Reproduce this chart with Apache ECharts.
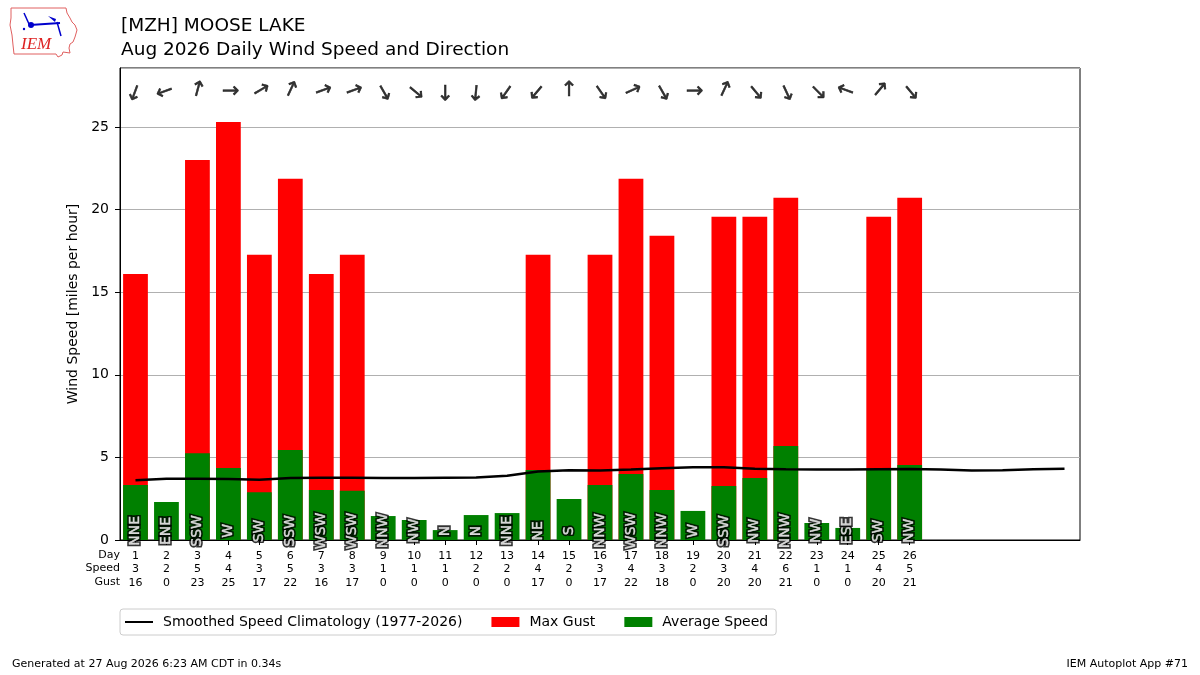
<!DOCTYPE html>
<html>
<head>
<meta charset="utf-8">
<script src="https://cdn.jsdelivr.net/npm/echarts@6/dist/echarts.min.js"></script>
<style>html,body{margin:0;padding:0;background:#fff;}#c{width:1200px;height:675px;}</style>
</head>
<body>
<div id="c"></div>
<script>
// ---- data ----
const days = ['1','2','3','4','5','6','7','8','9','10','11','12','13','14','15','16','17','18','19','20','21','22','23','24','25','26','27','28','29','30','31'];
const avgSpeed = [3.33,2.30,5.25,4.36,2.89,5.45,3.03,2.98,1.45,1.21,0.60,1.51,1.63,4.24,2.48,3.33,4.00,3.03,1.76,3.27,3.75,5.69,1.03,0.73,4.25,4.54];
const maxGust = [16.1,0,23.0,25.3,17.26,21.86,16.1,17.26,0,0,0,0,0,17.26,0,17.26,21.86,18.41,0,19.56,19.56,20.71,0,0,19.56,20.71];
const climo = [3.61,3.71,3.71,3.69,3.65,3.75,3.77,3.77,3.75,3.75,3.77,3.79,3.89,4.14,4.22,4.20,4.26,4.34,4.40,4.40,4.32,4.28,4.26,4.26,4.28,4.30,4.26,4.20,4.22,4.28,4.32];
const dirText = ['NNE','ENE','SSW','W','SW','SSW','WSW','WSW','NNW','NW','N','N','NNE','NE','S','NNW','WSW','NNW','W','SSW','NW','NNW','NW','ESE','SW','NW'];
const dirDeg = [20,70,195,270,240,205,250,250,330,310,0,5,35,40,180,325,245,330,270,205,320,335,315,110,220,320];
const speedLbl = ['3','2','5','4','3','5','3','3','1','1','1','2','2','4','2','3','4','3','2','3','4','6','1','1','4','5'];
const gustLbl = ['16','0','23','25','17','22','16','17','0','0','0','0','0','17','0','17','22','18','0','20','20','21','0','0','20','21'];
const yTicks = [0,5,10,15,20,25];

const FONT = 'DejaVu Sans';
const chart = echarts.init(document.getElementById('c'), null, {renderer:'canvas'});

const labelY = 0.55;
const arrowY = 27.2;
const lineIcon = 'path://M0,0h0.01v0.01h-0.01z M0,3.9h28v2.2h-28z M0,9.99h0.01v0.01h-0.01z';

const dirLabelBase = {show: true, position: 'inside', formatter: p => p.name, rotate: 90,
  fontFamily: FONT, fontSize: 14, align: 'center', verticalAlign: 'middle'};

const option = {
  backgroundColor: '#fff',
  animation: false,
  textStyle: {fontFamily: FONT},
  title: [
    {text: '[MZH] MOOSE LAKE', left: 116, top: 12, textStyle: {fontFamily: FONT, fontSize: 18.5, fontWeight: 'normal', color: '#000'}},
    {text: 'Aug 2026 Daily Wind Speed and Direction', left: 116, top: 36, textStyle: {fontFamily: FONT, fontSize: 18.5, fontWeight: 'normal', color: '#000'}}
  ],
  grid: {left: 120, right: 120, top: 68, bottom: 135, show: true, borderColor: '#000', borderWidth: 1, backgroundColor: 'transparent'},
  legend: {
    data: [
      {name: 'Smoothed Speed Climatology (1977-2026)', icon: lineIcon},
      {name: 'Max Gust', icon: 'rect'},
      {name: 'Average Speed', icon: 'rect'}
    ],
    left: 120, top: 609, orient: 'horizontal',
    itemWidth: 28, itemHeight: 10, itemGap: 29,
    padding: [6, 8, 6, 5],
    borderColor: '#cccccc', borderWidth: 1, borderRadius: 3,
    textStyle: {fontFamily: FONT, fontSize: 14, color: '#000', padding: [0, 0, 0, 5]}
  },
  xAxis: {
    type: 'category', data: days, boundaryGap: true,
    axisLine: {lineStyle: {color: '#000'}},
    axisTick: {show: true, alignWithLabel: true, length: 5, interval: (i) => i < speedLbl.length, lineStyle: {color: '#000'}},
    axisLabel: {
      interval: 0, margin: 9, color: '#000', fontSize: 11, lineHeight: 13.5, fontFamily: FONT,
      formatter: (v, i) => i < speedLbl.length ? (v + '\n' + speedLbl[i] + '\n' + gustLbl[i]) : ''
    },
    splitLine: {show: false}
  },
  yAxis: {
    type: 'value', min: 0, max: 28.57, interval: 5,
    name: 'Wind Speed [miles per hour]', nameLocation: 'middle', nameGap: 33,
    nameTextStyle: {fontFamily: FONT, fontSize: 14, color: '#000'},
    axisLine: {show: true, lineStyle: {color: '#000'}},
    axisTick: {show: true, length: 5, lineStyle: {color: '#000'}},
    axisLabel: {color: '#000', fontSize: 14, fontFamily: FONT, showMaxLabel: false, margin: 11,
      formatter: v => yTicks.indexOf(v) >= 0 ? String(v) : ''},
    splitLine: {show: true, lineStyle: {color: '#b0b0b0', width: 1}}
  },
  series: [
    {name: 'Max Gust', type: 'bar', data: maxGust, barCategoryGap: '20%', barGap: '-100%', itemStyle: {color: '#ff0000'}, z: 2},
    {name: 'Average Speed', type: 'bar', data: avgSpeed, barCategoryGap: '20%', barGap: '-100%', itemStyle: {color: '#008000'}, z: 2},
    {name: 'Smoothed Speed Climatology (1977-2026)', type: 'line', data: climo, symbol: 'none', showSymbol: false,
      lineStyle: {color: '#000', width: 2.5}, itemStyle: {color: '#000'}, z: 3},
    {name: 'dirlabelsOutline', type: 'scatter', symbolSize: 0, z: 5, silent: true,
      data: dirText.map((t, i) => ({value: [i, labelY], name: t})),
      label: Object.assign({}, dirLabelBase, {color: '#000', textBorderColor: '#000', textBorderWidth: 3.6})},
    {name: 'dirlabels', type: 'scatter', symbolSize: 0, z: 6, silent: true,
      data: dirText.map((t, i) => ({value: [i, labelY], name: t})),
      label: Object.assign({}, dirLabelBase, {color: '#fff', textBorderColor: '#fff', textBorderWidth: 0.4})},
    {name: 'arrows', type: 'scatter', symbolSize: 0, z: 5, silent: true,
      data: dirDeg.map((d, i) => ({value: [i, arrowY],
        label: {rotate: -((d + 180) % 360)}})),
      label: {show: true, position: 'inside', formatter: '↑',
        color: '#000', textBorderColor: '#000', textBorderWidth: 0.5,
        fontFamily: FONT, fontSize: 21, align: 'center', verticalAlign: 'middle'}}
  ],
  graphic: [
    {type: 'text', x: 120, y: 548, style: {text: 'Day\nSpeed\nGust', fontFamily: FONT, fontSize: 11, lineHeight: 13.5, fill: '#000', align: 'right'}},
    {type: 'text', left: 12, top: 659, style: {text: 'Generated at 27 Aug 2026 6:23 AM CDT in 0.34s', fontFamily: FONT, fontSize: 11, fill: '#000'}},
    {type: 'text', right: 12, top: 659, style: {text: 'IEM Autoplot App #71', fontFamily: FONT, fontSize: 11, fill: '#000'}},
    // logo
    {type: 'polyline', shape: {points: [[11,8],[66,8],[67,13],[70,18],[72,22],[75,25],[77,30],[75,37],[73,42],[70,44],[69,48],[70,53],[63,52],[62,55],[58,57],[56,54],[14,54],[13,45],[12,35],[10,25],[11,18],[11,8]]},
      style: {stroke: '#e06060', lineWidth: 1, fill: 'none'}},
    {type: 'text', left: 21, top: 36, style: {text: 'IEM', fontFamily: 'Liberation Serif', fontStyle: 'italic', fontSize: 17, fill: '#dd2222'}},
    {type: 'line', shape: {x1: 30, y1: 25, x2: 60, y2: 23}, style: {stroke: '#0000cc', lineWidth: 2}},
    {type: 'circle', shape: {cx: 31, cy: 25, r: 3}, style: {fill: '#0000cc'}},
    {type: 'line', shape: {x1: 24, y1: 13, x2: 29, y2: 24}, style: {stroke: '#0000cc', lineWidth: 1.5}},
    {type: 'line', shape: {x1: 57, y1: 22, x2: 61, y2: 36}, style: {stroke: '#0000cc', lineWidth: 1.5}},
    {type: 'polygon', shape: {points: [[48,16],[56,19],[55,22]]}, style: {fill: '#0000cc'}},
    {type: 'circle', shape: {cx: 24, cy: 29, r: 1.2}, style: {fill: '#0000cc'}}
  ]
};
chart.setOption(option);
</script>
</body>
</html>
